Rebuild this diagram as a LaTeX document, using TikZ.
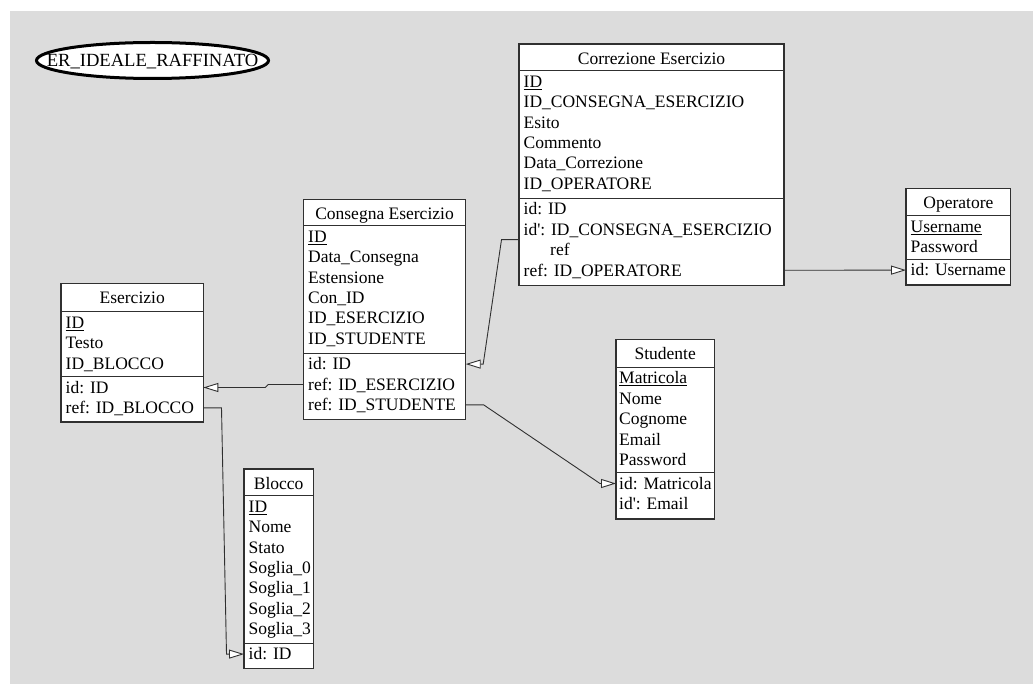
\documentclass[tikz,border=0pt]{standalone}
\usepackage{fontspec}
\setmainfont{Liberation Serif}
\usetikzlibrary{arrows.meta,shapes.geometric,calc}

\definecolor{canvas}{HTML}{DCDCDC}
\definecolor{frame}{HTML}{303030}

\tikzset{
  table/.style={draw=frame, line width=1.3pt, fill=white, anchor=north west,
                inner sep=0pt, outer sep=0pt},
  divider/.style={draw=frame, line width=1.3pt},
  title/.style={anchor=base, inner sep=0pt},
  row/.style={anchor=base west, inner sep=0pt, text height=11.6pt, text depth=0pt},
  link/.style={draw=frame, line width=0.9pt,
               -{Triangle[length=15pt, width=9pt, fill=white]}},
  schema/.style={ellipse, draw=black, line width=3pt, fill=white, inner sep=0pt,
                 minimum width=232pt, minimum height=36pt,
                 text height=12pt, text depth=0pt,
                 font=\fontsize{18.6}{20.4}\selectfont}
}
\newcommand\q{\textquotesingle}

\begin{document}
\begin{tikzpicture}[x=1pt, y=-1pt, font=\fontsize{17.5}{20.4}\selectfont]
\useasboundingbox (0,0) rectangle (1033,684);
\fill[canvas] (10,11) rectangle (1033,684);

% schema name (zero-width label so the ellipse keeps its own size)
\node[schema] (er) at (152.5,60.5) {\makebox[0pt]{ER\_IDEALE\_RAFFINATO}};

% ---------- Correzione Esercizio ----------
\node[table, minimum width=265pt, minimum height=241.7pt] (cor) at (519,44) {};
\draw[divider] (519,70.7) -- (784,70.7);
\draw[divider] (519,198.3) -- (784,198.3);
\node[title] (corH) at (651.5,64.4) {Correzione Esercizio};
\node[row] (corA1) at (523.5,87.3) {\underline{ID}};
\node[row] (corA2) at (523.5,107.7) {ID\_CONSEGNA\_ESERCIZIO};
\node[row] (corA3) at (523.5,128.1) {Esito};
\node[row] (corA4) at (523.5,148.5) {Commento};
\node[row] (corA5) at (523.5,168.9) {Data\_Correzione};
\node[row] (corA6) at (523.5,189.3) {ID\_OPERATORE};
\node[row] (corK1) at (523.5,214.9) {id: ID};
\node[row] (corK2) at (523.5,235.3) {id\q: ID\_CONSEGNA\_ESERCIZIO};
\node[row] (corK3) at (550,255.7) {ref};
\node[row] (corK4) at (523.5,276.1) {ref: ID\_OPERATORE};

% ---------- Operatore ----------
\node[table, minimum width=104.7pt, minimum height=96.7pt] (ope) at (906,188.3) {};
\draw[divider] (906,215.7) -- (1010.7,215.7);
\draw[divider] (906,259.3) -- (1010.7,259.3);
\node[title] (opeH) at (958.4,208.8) {Operatore};
\node[row] (opeA1) at (910.5,232.3) {\underline{Username}};
\node[row] (opeA2) at (910.5,252.7) {Password};
\node[row] (opeK1) at (910.5,275.9) {id: Username};

% ---------- Consegna Esercizio ----------
\node[table, minimum width=162.4pt, minimum height=220pt] (con) at (303.3,199.3) {};
\draw[divider] (303.3,225.7) -- (465.7,225.7);
\draw[divider] (303.3,353.3) -- (465.7,353.3);
\node[title] (conH) at (384.5,219.6) {Consegna Esercizio};
\node[row] (conA1) at (308,242.3) {\underline{ID}};
\node[row] (conA2) at (308,262.7) {Data\_Consegna};
\node[row] (conA3) at (308,283.1) {Estensione};
\node[row] (conA4) at (308,303.5) {Con\_ID};
\node[row] (conA5) at (308,323.9) {ID\_ESERCIZIO};
\node[row] (conA6) at (308,344.3) {ID\_STUDENTE};
\node[row] (conK1) at (308,369.9) {id: ID};
\node[row] (conK2) at (308,390.3) {ref: ID\_ESERCIZIO};
\node[row] (conK3) at (308,410.7) {ref: ID\_STUDENTE};

% ---------- Esercizio ----------
\node[table, minimum width=142.3pt, minimum height=138.7pt] (ese) at (61,283.3) {};
\draw[divider] (61,311.7) -- (203.3,311.7);
\draw[divider] (61,376.7) -- (203.3,376.7);
\node[title] (eseH) at (132.2,303.7) {Esercizio};
\node[row] (eseA1) at (65.5,328.3) {\underline{ID}};
\node[row] (eseA2) at (65.5,348.7) {Testo};
\node[row] (eseA3) at (65.5,369.1) {ID\_BLOCCO};
\node[row] (eseK1) at (65.5,393.3) {id: ID};
\node[row] (eseK2) at (65.5,413.7) {ref: ID\_BLOCCO};

% ---------- Blocco ----------
\node[table, minimum width=69.3pt, minimum height=199.3pt] (blo) at (244,469) {};
\draw[divider] (244,495.7) -- (313.3,495.7);
\draw[divider] (244,643.3) -- (313.3,643.3);
\node[title] (bloH) at (278.7,489.4) {Blocco};
\node[row] (bloA1) at (248.5,512.3) {\underline{ID}};
\node[row] (bloA2) at (248.5,532.7) {Nome};
\node[row] (bloA3) at (248.5,553.1) {Stato};
\node[row] (bloA4) at (248.5,573.5) {Soglia\_0};
\node[row] (bloA5) at (248.5,593.9) {Soglia\_1};
\node[row] (bloA6) at (248.5,614.3) {Soglia\_2};
\node[row] (bloA7) at (248.5,634.7) {Soglia\_3};
\node[row] (bloK1) at (248.5,659.9) {id: ID};

% ---------- Studente ----------
\node[table, minimum width=98.3pt, minimum height=179.7pt] (stu) at (616,339.3) {};
\draw[divider] (616,367.3) -- (714.3,367.3);
\draw[divider] (616,472.7) -- (714.3,472.7);
\node[title] (stuH) at (665.2,359.7) {Studente};
\node[row] (stuA1) at (619,383.9) {\underline{Matricola}};
\node[row] (stuA2) at (619,404.3) {Nome};
\node[row] (stuA3) at (619,424.7) {Cognome};
\node[row] (stuA4) at (619,445.1) {Email};
\node[row] (stuA5) at (619,465.5) {Password};
\node[row] (stuK1) at (619,489.3) {id: Matricola};
\node[row] (stuK2) at (619,509.7) {id\q: Email};

% ---------- references ----------
\coordinate (corRef) at ($(corK2.center)!0.5!(corK3.center)$);

\draw[link] (con.west |- conK2) -- ([xshift=-35pt]con.west |- conK2)
            -- ([xshift=62pt]ese.east |- eseK1) -- (ese.east |- eseK1);
\draw[link] (ese.east |- eseK2) -- ([xshift=18.2pt]ese.east |- eseK2)
            -- ([xshift=-17.5pt]blo.west |- bloK1) -- (blo.west |- bloK1);
\draw[link] (cor.west |- corRef) -- ([xshift=-17.5pt]cor.west |- corRef)
            -- ([xshift=17.5pt]con.east |- conK1) -- (con.east |- conK1);
\draw[link] (con.east |- conK3) -- ([xshift=18pt]con.east |- conK3)
            -- ([xshift=-16pt]stu.west |- stuK1) -- (stu.west |- stuK1);
\draw[link] (cor.east |- corK4) -- (ope.west |- opeK1);
\end{tikzpicture}
\end{document}
